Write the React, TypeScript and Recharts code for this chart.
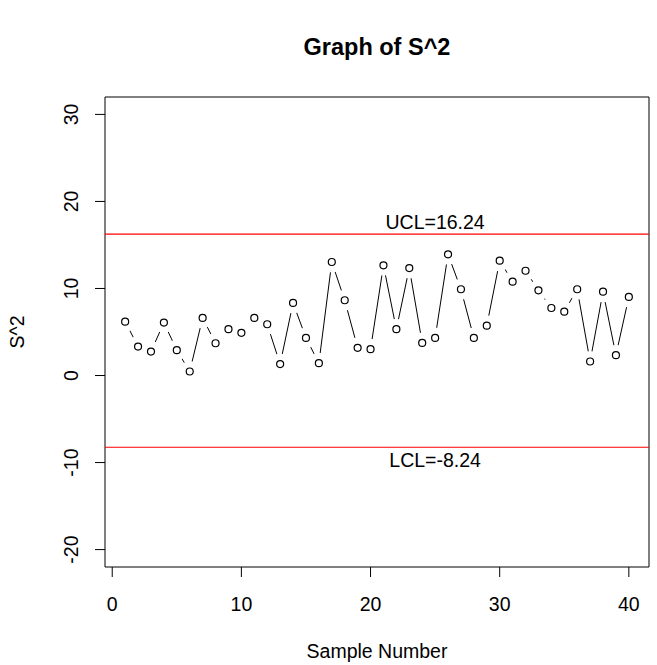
import {
  LineChart,
  Line,
  XAxis,
  YAxis,
  ReferenceLine,
  ReferenceArea,
  ReferenceDot
} from 'recharts'

// sample numbers on the x axis
const sampleNumbers = [
  1, 2, 3, 4, 5, 6, 7, 8, 9, 10,
  11, 12, 13, 14, 15, 16, 17, 18, 19, 20,
  21, 22, 23, 24, 25, 26, 27, 28, 29, 30,
  31, 32, 33, 34, 35, 36, 37, 38, 39, 40
]

// sample variances
const s2Values = [
  6.19, 3.33, 2.75, 6.08, 2.91, 0.46, 6.62, 3.71, 5.32, 4.9,
  6.62, 5.89, 1.31, 8.34, 4.32, 1.42, 13.04, 8.65, 3.18, 3.03,
  12.66, 5.32, 12.35, 3.75, 4.32, 13.92, 9.91, 4.32, 5.73, 13.19,
  10.78, 12.04, 9.79, 7.76, 7.34, 9.91, 1.61, 9.63, 2.34, 9.03
]

const xTicks = [0, 10, 20, 30, 40]
const yTicks = [-20, -10, 0, 10, 20, 30]
const xDomain = [-0.56, 41.56]
const yDomain = [-22, 32]

const ucl = 16.24
const lcl = -8.24
const limitLabelX = 25

const FONT = 'Liberation Sans, Arial, sans-serif'

const data = sampleNumbers.map((n, i) => ({ sample: n, s2: s2Values[i] }))

// y tick labels are rotated like R's default las=0
const YTick = (props: any) => {
  const { x, y, payload } = props
  const bx = x - 15
  return (
    <text
      x={bx}
      y={y}
      transform={`rotate(-90, ${bx}, ${y})`}
      textAnchor="middle"
      fontSize={19.5}
      fontFamily={FONT}
      fill="#000"
    >
      {payload.value}
    </text>
  )
}

// white disc under each point so the line stops short of it (type = "b")
const GapDot = (props: any) => (
  <circle key={`gap-${props.index}`} cx={props.cx} cy={props.cy} r={10.5} fill="#fff" stroke="none" />
)

const OpenDot = (props: any) => (
  <circle key={`dot-${props.index}`} cx={props.cx} cy={props.cy} r={3.5} fill="#fff" stroke="#000" strokeWidth={1.2} />
)

export default function App() {
  return (
    <div style={{ position: 'absolute', left: 0, top: 0, width: 657, height: 665, background: '#fff' }}>
      <LineChart
        width={657}
        height={665}
        data={data}
        margin={{ top: 97, right: 8, bottom: 38, left: 45 }}
      >
        <XAxis
          dataKey="sample"
          type="number"
          domain={xDomain}
          ticks={xTicks}
          interval={0}
          allowDataOverflow
          axisLine={false}
          tickLine={{ stroke: '#000' }}
          tickSize={10}
          tickMargin={20}
          height={60}
          tick={{ fill: '#000', fontSize: 19.5, fontFamily: FONT }}
        />
        <YAxis
          type="number"
          domain={yDomain}
          ticks={yTicks}
          interval={0}
          allowDataOverflow
          axisLine={false}
          tickLine={{ stroke: '#000' }}
          tickSize={10}
          tickMargin={2}
          width={60}
          tick={<YTick />}
        />

        <ReferenceLine y={ucl} stroke="#ff0000" strokeWidth={1.2} />
        <ReferenceLine y={lcl} stroke="#ff0000" strokeWidth={1.2} />

        <Line type="linear" dataKey="s2" stroke="#000" strokeWidth={1} dot={false} activeDot={false} isAnimationActive={false} />
        <Line type="linear" dataKey="s2" stroke="none" dot={GapDot} activeDot={false} isAnimationActive={false} />
        <Line type="linear" dataKey="s2" stroke="none" dot={OpenDot} activeDot={false} isAnimationActive={false} />

        <ReferenceArea
          x1={xDomain[0]}
          x2={xDomain[1]}
          y1={yDomain[0]}
          y2={yDomain[1]}
          fill="none"
          fillOpacity={0}
          stroke="#000"
          strokeWidth={1}
        />

        <ReferenceDot
          x={limitLabelX}
          y={ucl}
          r={0}
          fill="none"
          stroke="none"
          label={{ value: 'UCL=16.24', position: 'top', offset: 5.5, fill: '#000', fontSize: 19.5, fontFamily: FONT }}
        />
        <ReferenceDot
          x={limitLabelX}
          y={lcl}
          r={0}
          fill="none"
          stroke="none"
          label={{ value: 'LCL=-8.24', position: 'bottom', offset: 6.3, fill: '#000', fontSize: 19.5, fontFamily: FONT }}
        />

        <text x={377} y={55} textAnchor="middle" fontSize={23.5} fontWeight="bold" fontFamily={FONT} fill="#000">
          Graph of S^2
        </text>
        <text x={377} y={658} textAnchor="middle" fontSize={19.5} fontFamily={FONT} fill="#000">
          Sample Number
        </text>
        <text
          x={24}
          y={332}
          transform="rotate(-90, 24, 332)"
          textAnchor="middle"
          fontSize={19.5}
          fontFamily={FONT}
          fill="#000"
        >
          S^2
        </text>
      </LineChart>
    </div>
  )
}
